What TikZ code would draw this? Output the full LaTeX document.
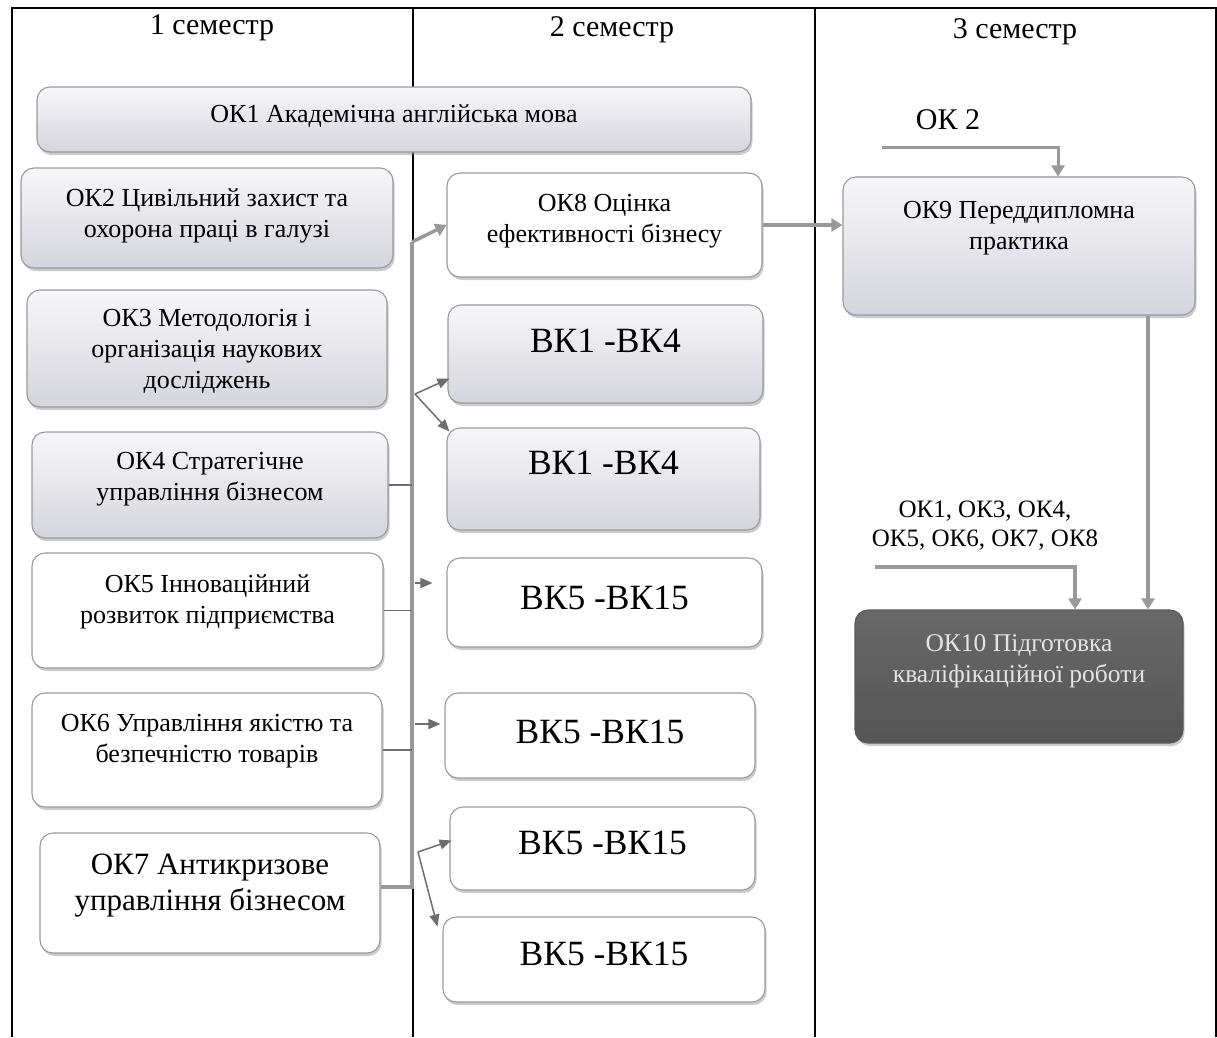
\documentclass[tikz,border=0pt]{standalone}
\usepackage{fontspec}
\setmainfont{Liberation Serif}
\usetikzlibrary{shadows,arrows.meta,calc}
\definecolor{boxline}{HTML}{9A9A9A}
\definecolor{gbtop}{HTML}{F7F7FA}
\definecolor{gbbot}{HTML}{D4D4DC}
\definecolor{darktop}{HTML}{686868}
\definecolor{darkbot}{HTML}{555555}
\definecolor{darkline}{HTML}{5A5A5A}
\definecolor{linegray}{HTML}{999999}
\definecolor{arrowgray}{HTML}{6E6E6E}
\newcommand\mkbox[9]{%
  \node[#2, minimum width={(#6-#4)*1pt}, minimum height={(#7-#5)*1pt}] (#1) at ({(#4+#6)/2},{(#5+#7)/2}) {};%
  \node[#3] (#1-t) at ({(#4+#6)/2},{(#5+#7)/2+(#8)}) {#9};}
\begin{document}
\begin{tikzpicture}[x=1pt,y=-1pt,
  box/.style={rounded corners=13pt, draw=boxline, line width=1.1pt, inner sep=0pt,
    drop shadow={shadow xshift=1.5pt,shadow yshift=-3pt,fill=black!40,opacity=.5}},
  graybox/.style={box, top color=gbtop, bottom color=gbbot},
  whitebox/.style={box, fill=white},
  darkbox/.style={box, top color=darktop, bottom color=darkbot, draw=darkline},
  txt/.style={align=center, inner sep=0pt, font=\fontsize{26}{31}\selectfont},
  bigtxt/.style={txt, font=\fontsize{35.5}{40}\selectfont},
  midtxt/.style={txt, font=\fontsize{31}{36}\selectfont},
  wtxt/.style={txt, text=white!90!black, font=\fontsize{25.5}{31}\selectfont},
  hdr/.style={font=\fontsize{30}{34}\selectfont, inner sep=0pt},
  thickline/.style={draw=linegray, line width=3.5pt},
  thickarrow/.style={thickline, -{Triangle[width=13pt,length=11pt]}},
  thinarrow/.style={draw=arrowgray, line width=1.5pt, -{Triangle[width=10pt,length=12pt]}},
  tickline/.style={draw=arrowgray, line width=1.2pt}
]
\useasboundingbox (0,0) rectangle (1217,1037);
\fill[white] (0,0) rectangle (1217,1037);
% table
\draw[line width=1.1pt] (12,1037) -- (12,8) -- (1216,8) -- (1216,1037);
\draw[line width=1.1pt] (413,8) -- (413,1037);
\draw[line width=1.1pt] (815,8) -- (815,1037);
\node[hdr] (h1) at (212,28) {1 семестр};
\node[hdr] (h2) at (612,30) {2 семестр};
\node[hdr] (h3) at (1015,32) {3 семестр};
% column 1
\mkbox{ok1}{graybox}{txt}{37}{87}{751}{152}{-3}{ОК1 Академічна англійська мова}
\mkbox{ok2}{graybox}{txt}{21}{168}{393}{268}{-2}{ОК2 Цивільний захист та\\охорона праці в галузі}
\mkbox{ok3}{graybox}{txt}{27}{290}{387}{407}{3}{ОК3 Методологія і\\організація наукових\\досліджень}
\mkbox{ok4}{graybox}{txt}{32}{432}{388}{538}{-6}{ОК4 Стратегічне\\управління бізнесом}
\mkbox{ok5}{whitebox}{txt}{32}{553}{383}{668}{-9}{ОК5 Інноваційний\\розвиток підприємства}
\mkbox{ok6}{whitebox}{txt}{32}{693}{382}{807}{-9}{ОК6 Управління якістю та\\безпечністю товарів}
\mkbox{ok7}{whitebox}{midtxt}{40}{833}{380}{953}{-7}{ОК7 Антикризове\\управління бізнесом}
% column 2
\mkbox{ok8}{whitebox}{txt}{447}{173}{762}{277}{-4}{ОК8 Оцінка\\ефективності бізнесу}
\mkbox{bk1a}{graybox}{bigtxt}{448}{305}{763}{403}{-13}{ВК1 -ВК4}
\mkbox{bk1b}{graybox}{bigtxt}{447}{428}{760}{530}{-16}{ВК1 -ВК4}
\mkbox{bk5a}{whitebox}{bigtxt}{447}{558}{762}{647}{-5}{ВК5 -ВК15}
\mkbox{bk5b}{whitebox}{bigtxt}{445}{693}{755}{778}{-4}{ВК5 -ВК15}
\mkbox{bk5c}{whitebox}{bigtxt}{450}{807}{755}{890}{-6}{ВК5 -ВК15}
\mkbox{bk5d}{whitebox}{bigtxt}{443}{917}{765}{1002}{-6}{ВК5 -ВК15}
% column 3
\mkbox{ok9}{graybox}{txt}{843}{177}{1195}{315}{-18}{ОК9 Переддипломна\\практика}
\mkbox{ok10}{darkbox}{wtxt}{855}{610}{1183}{743}{-15}{ОК10 Підготовка\\кваліфікаційної роботи}
\node[txt, font=\fontsize{30}{34}\selectfont] (lok2) at (948,120) {ОК 2};
\node[txt, font=\fontsize{25}{29}\selectfont] (lbl) at (985,526) {ОК1, ОК3, ОК4,\\ОК5, ОК6, ОК7, ОК8};
% bus
\coordinate (bustop) at (412,242);
\coordinate (busbot) at (412,887);
\draw[thickline, line width=4pt] (busbot -| ok7.east) -- (busbot) -- (bustop);
\draw[thickarrow] (bustop) -- (ok8.west);
\draw[tickline] (ok4.east) -- (ok4.east -| bustop);
\draw[tickline] (ok5.east) -- (ok5.east -| bustop);
\draw[tickline] (ok6.east) -- (ok6.east -| bustop);
\coordinate (f1) at (415,394);
\draw[thinarrow] (f1) -- ($(bk1a.south west)+(2,-25)$);
\draw[thinarrow] (f1) -- ($(bk1b.north west)+(3,4)$);
\coordinate (a5) at (415,583);
\draw[thinarrow] (a5) -- ($(a5 -| bk5a.west)+(-14,0)$);
\coordinate (a6) at (415,724);
\draw[thinarrow] (a6) -- ($(a6 -| bk5b.west)+(-4,0)$);
\coordinate (f2) at (418,852);
\draw[thinarrow] (f2) -- ($(bk5c.west)+(2,-8)$);
\draw[thinarrow] (f2) -- ($(bk5d.north west)+(-5,10)$);
% column 3 connectors
\draw[thickarrow] (ok8.east) -- (ok8.east -| ok9.west);
\coordinate (c2s) at (882,147);
\coordinate (c2e) at (1058,147);
\draw[thickarrow, line width=3pt] (c2s) -- (c2e) -- (c2e |- ok9.north);
\coordinate (c9) at (1148,0);
\draw[thickarrow] (c9 |- ok9.south) -- (c9 |- ok10.north);
\coordinate (cls) at (875,567);
\coordinate (cle) at (1075,567);
\draw[thickarrow] (cls) -- (cle) -- (cle |- ok10.north);
\end{tikzpicture}
\end{document}
